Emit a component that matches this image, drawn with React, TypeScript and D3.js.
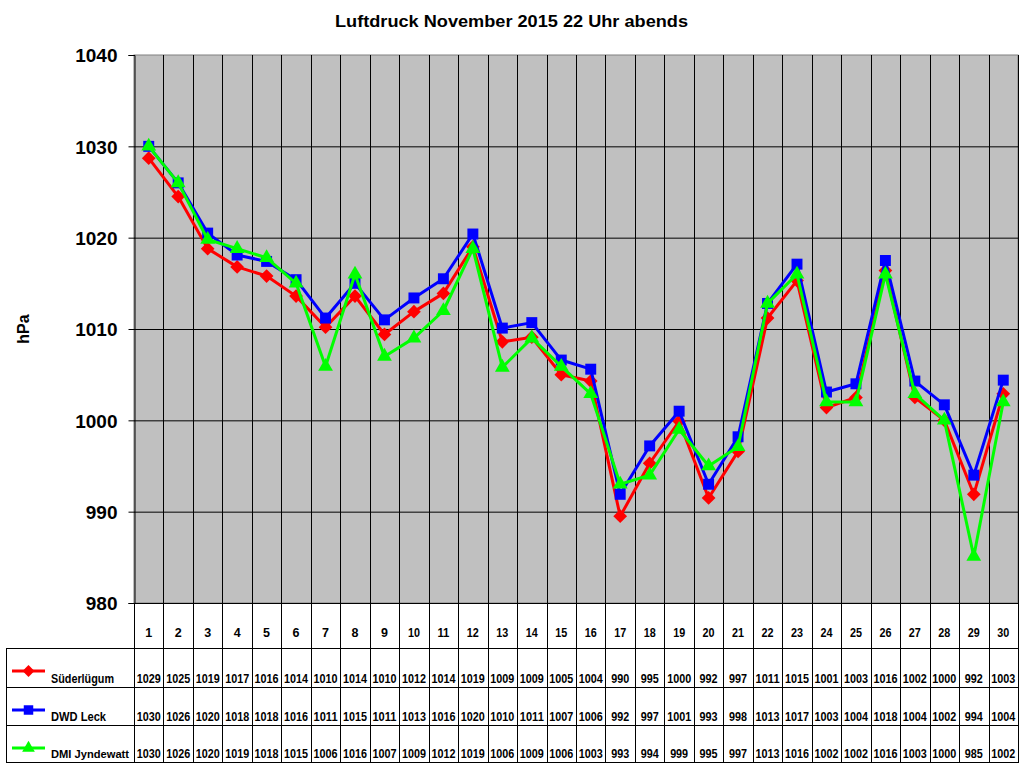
import React, { useEffect, useRef } from "react";
import * as d3 from "d3";

const days = d3.range(1, 31).map(String);

// plotted values
const suederluegum = [
  1028.7, 1024.5, 1018.8, 1016.8, 1015.8, 1013.6, 1010.2, 1013.6, 1009.4, 1011.9,
  1013.9, 1019.0, 1008.6, 1009.1, 1005.0, 1004.3, 989.5, 995.3, 999.9, 991.5,
  996.6, 1011.2, 1015.3, 1001.4, 1002.5, 1016.4, 1002.5, 1000.0, 991.9, 1002.9,
];
const dwdLeck = [
  1030.0, 1026.0, 1020.5, 1018.1, 1017.4, 1015.4, 1011.2, 1015.0, 1011.0, 1013.4,
  1015.5, 1020.4, 1010.1, 1010.7, 1006.6, 1005.6, 991.9, 997.2, 1001.0, 993.0,
  998.2, 1012.8, 1017.1, 1003.1, 1004.0, 1017.5, 1004.3, 1001.7, 994.0, 1004.4,
];
const dmiJyndewatt = [
  1030.0, 1026.0, 1019.8, 1018.8, 1017.8, 1015.0, 1005.9, 1016.0, 1007.0, 1009.0,
  1012.0, 1018.8, 1005.8, 1009.0, 1005.9, 1002.9, 993.0, 994.0, 999.0, 995.0,
  997.1, 1012.8, 1016.0, 1002.0, 1002.0, 1016.0, 1002.9, 1000.0, 985.1, 1002.0,
];

// values printed in the table
const tableSued = [1029, 1025, 1019, 1017, 1016, 1014, 1010, 1014, 1010, 1012, 1014, 1019, 1009, 1009, 1005, 1004, 990, 995, 1000, 992, 997, 1011, 1015, 1001, 1003, 1016, 1002, 1000, 992, 1003];
const tableLeck = [1030, 1026, 1020, 1018, 1018, 1016, 1011, 1015, 1011, 1013, 1016, 1020, 1010, 1011, 1007, 1006, 992, 997, 1001, 993, 998, 1013, 1017, 1003, 1004, 1018, 1004, 1002, 994, 1004];
const tableDmi = [1030, 1026, 1020, 1019, 1018, 1015, 1006, 1016, 1007, 1009, 1012, 1019, 1006, 1009, 1006, 1003, 993, 994, 999, 995, 997, 1013, 1016, 1002, 1002, 1016, 1003, 1000, 985, 1002];

const yTicks = [980, 990, 1000, 1010, 1020, 1030, 1040];

const series = [
  { name: "Süderlügum", values: suederluegum, table: tableSued, color: "#ff0000", symbol: d3.symbolDiamond2, labelW: 63, labelSize: 12 },
  { name: "DWD Leck", values: dwdLeck, table: tableLeck, color: "#0000ff", symbol: d3.symbolSquare, labelW: 55, labelSize: 12 },
  { name: "DMI Jyndewatt", values: dmiJyndewatt, table: tableDmi, color: "#00ff00", symbol: d3.symbolTriangle, labelW: 78, labelSize: 11.5 },
];

const App: React.FC = () => {
  const svgRef = useRef<SVGSVGElement | null>(null);

  useEffect(() => {
    d3.select(svgRef.current).selectAll("*").remove();
    const svg = d3.select(svgRef.current);
    const font = "'Liberation Sans', Arial, sans-serif";

    const left = 134;
    const right = 1018;
    const top = 55;
    const bottom = 603;
    const rowEdges = [603, 648, 687, 725, 762];
    const tableLeft = 6;

    const x = d3.scaleBand().domain(days).range([left, right]);
    const y = d3.scaleLinear().domain([980, 1040]).range([bottom, top]);
    const cx = (i: number) => (x(days[i]) || 0) + x.bandwidth() / 2;

    svg.append("rect").attr("width", 1024).attr("height", 768).attr("fill", "#fff");

    // title
    svg
      .append("text")
      .attr("x", 511.5)
      .attr("y", 27)
      .attr("text-anchor", "middle")
      .attr("textLength", 353)
      .attr("lengthAdjust", "spacingAndGlyphs")
      .style("font", `bold 17px ${font}`)
      .text("Luftdruck November 2015 22 Uhr abends");

    // plot area
    svg
      .append("rect")
      .attr("x", left)
      .attr("y", top)
      .attr("width", right - left)
      .attr("height", bottom - top)
      .attr("fill", "#c0c0c0")
      .attr("stroke", "#808080");

    // horizontal grid
    svg
      .append("g")
      .selectAll("line")
      .data(yTicks.slice(1, -1))
      .enter()
      .append("line")
      .attr("x1", left)
      .attr("x2", right)
      .attr("y1", (d) => y(d) + 0.5)
      .attr("y2", (d) => y(d) + 0.5)
      .attr("stroke", "#000");

    // vertical grid (plot + table)
    const bounds = days.slice(1).map((d) => Math.round(x(d) || 0) + 0.5);
    svg
      .append("g")
      .selectAll("line")
      .data(bounds)
      .enter()
      .append("line")
      .attr("x1", (d) => d)
      .attr("x2", (d) => d)
      .attr("y1", top)
      .attr("y2", rowEdges[4])
      .attr("stroke", "#000");

    // y axis
    const yAxis = svg
      .append("g")
      .attr("transform", `translate(${left + 0.5},0)`)
      .call(d3.axisLeft(y).tickValues(yTicks).tickSize(6).tickPadding(10).tickFormat(d3.format("d")));
    yAxis.select(".domain").attr("stroke", "#000");
    yAxis.selectAll(".tick line").attr("stroke", "#000");
    yAxis
      .selectAll(".tick text")
      .attr("fill", "#000")
      .attr("x", -17)
      .attr("dy", "0.36em")
      .style("font", `bold 19px ${font}`);

    svg
      .append("text")
      .attr("transform", "translate(29,329) rotate(-90)")
      .attr("text-anchor", "middle")
      .style("font", `bold 16px ${font}`)
      .text("hPa");

    // table grid
    const tg = svg.append("g").attr("stroke", "#000").attr("fill", "none");
    tg.append("line").attr("x1", right + 0.5).attr("x2", right + 0.5).attr("y1", top).attr("y2", rowEdges[4]);
    tg.append("line").attr("x1", left + 0.5).attr("x2", left + 0.5).attr("y1", bottom).attr("y2", rowEdges[4]);
    tg.append("line").attr("x1", tableLeft + 0.5).attr("x2", tableLeft + 0.5).attr("y1", rowEdges[1]).attr("y2", rowEdges[4]);
    tg.append("line").attr("x1", left).attr("x2", right).attr("y1", bottom + 0.5).attr("y2", bottom + 0.5);
    rowEdges.slice(1).forEach((ry) => {
      tg.append("line").attr("x1", tableLeft).attr("x2", right + 1).attr("y1", ry + 0.5).attr("y2", ry + 0.5);
    });

    // day numbers
    svg
      .append("g")
      .selectAll("text")
      .data(days)
      .enter()
      .append("text")
      .attr("x", (d, i) => cx(i))
      .attr("y", 637)
      .attr("text-anchor", "middle")
      .attr("textLength", (d) => (d.length > 1 ? 12 : null) as any)
      .attr("lengthAdjust", "spacingAndGlyphs")
      .style("font", `bold 12.5px ${font}`)
      .text((d) => d);

    // series rows
    series.forEach((s, si) => {
      const rTop = rowEdges[si + 1];
      const rBot = rowEdges[si + 2];
      const g = svg.append("g");
      g.append("line")
        .attr("x1", 12)
        .attr("x2", 45)
        .attr("y1", rTop + 23)
        .attr("y2", rTop + 23)
        .attr("stroke", s.color)
        .attr("stroke-width", 3);
      g.append("path")
        .attr("d", d3.symbol().type(s.symbol).size(s.symbol === d3.symbolTriangle ? 70 : 90)())
        .attr("transform", `translate(28.5,${rTop + 23})`)
        .attr("fill", s.color);
      g.append("text")
        .attr("x", 51)
        .attr("y", rBot - 4)
        .attr("textLength", s.labelW)
        .attr("lengthAdjust", "spacingAndGlyphs")
        .style("font", `bold ${s.labelSize}px ${font}`)
        .text(s.name);
      g.selectAll(".val")
        .data(s.table)
        .enter()
        .append("text")
        .attr("class", "val")
        .attr("x", (d, i) => cx(i))
        .attr("y", rBot - 4)
        .attr("text-anchor", "middle")
        .style("font", `bold 13px ${font}`)
        .attr("textLength", (d) => (d >= 1000 ? 24 : 18))
        .attr("lengthAdjust", "spacingAndGlyphs")
        .text((d) => d);
    });

    // lines & markers
    const line = d3
      .line<number>()
      .x((d, i) => cx(i))
      .y((d) => y(d));

    series.forEach((s) => {
      const g = svg.append("g");
      g.append("path")
        .datum(s.values)
        .attr("d", line)
        .attr("fill", "none")
        .attr("stroke", s.color)
        .attr("stroke-width", 3)
        .attr("stroke-linejoin", "round");
      g.selectAll("path.m")
        .data(s.values)
        .enter()
        .append("path")
        .attr("class", "m")
        .attr("d", d3.symbol().type(s.symbol).size(s.symbol === d3.symbolTriangle ? 95 : 120)())
        .attr("transform", (d, i) => `translate(${cx(i)},${y(d)})`)
        .attr("fill", s.color);
    });
  }, []);

  return (
    <div style={{ position: "absolute", left: 0, top: 0 }}>
      <svg ref={svgRef} width={1024} height={768} style={{ display: "block" }}></svg>
    </div>
  );
};

export default App;
